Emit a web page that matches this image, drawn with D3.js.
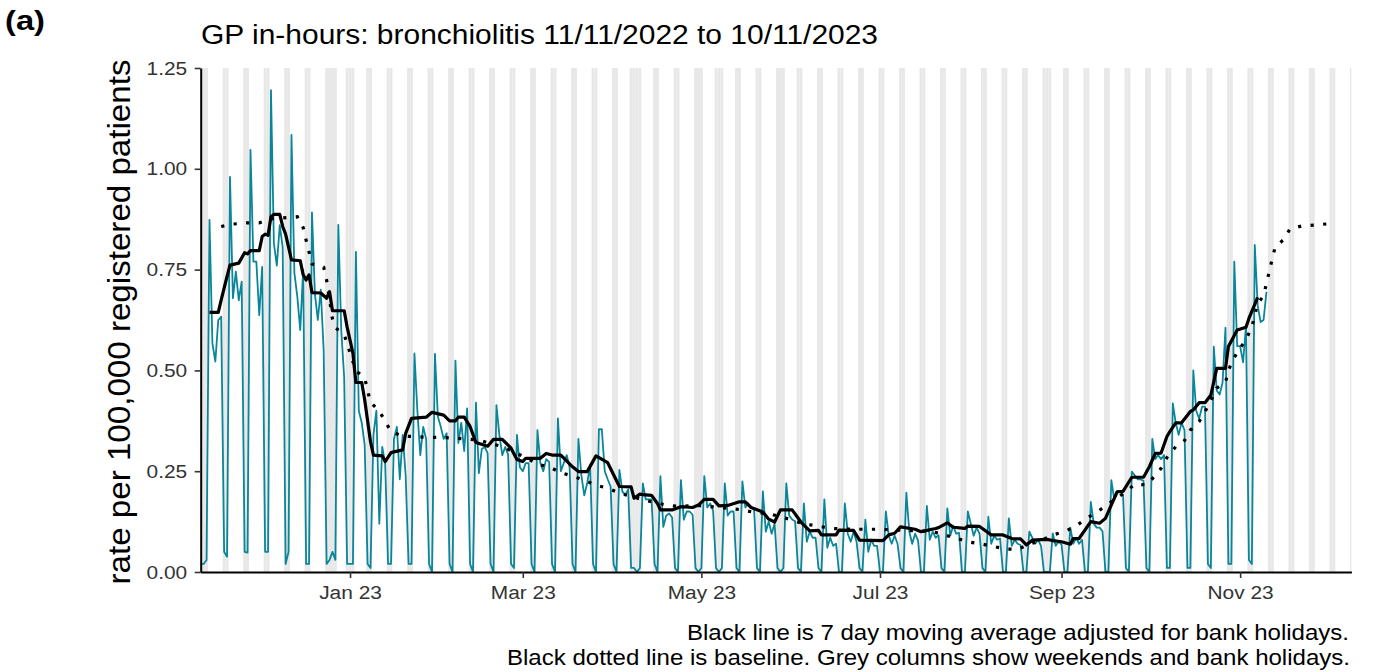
<!DOCTYPE html>
<html><head><meta charset="utf-8">
<script src="https://cdn.jsdelivr.net/npm/d3@7"></script>
<style>
body{margin:0;background:#fff}
svg{display:block}
text{font-family:"Liberation Sans", Arial, Helvetica, sans-serif}
</style>
</head><body>
<svg id="chart" width="1386" height="672"></svg>
<script>
// ---------------- data ----------------
const chartTitle = "GP in-hours: bronchiolitis 11/11/2022 to 10/11/2023";
const panelTag = "(a)";
const yTitle = "rate per 100,000 registered patients";
const captionLines = [
  "Black line is 7 day moving average adjusted for bank holidays.",
  "Black dotted line is baseline. Grey columns show weekends and bank holidays."
];
const xDomain = ["2022-11-11", "2023-12-09"];
const xTickDates = ["2023-01-01", "2023-03-01", "2023-05-01", "2023-07-01", "2023-09-01", "2023-11-01"];
const xTickLabels = ["Jan 23", "Mar 23", "May 23", "Jul 23", "Sep 23", "Nov 23"];
const yTicks = [0, 0.25, 0.5, 0.75, 1.0, 1.25];
const bankHolidays = ["2022-12-26", "2022-12-27", "2023-01-02", "2023-04-07", "2023-04-10",
                      "2023-05-01", "2023-05-08", "2023-05-29", "2023-08-28"];

// daily rate, one value per day from dailyStart
const dailyStart = "2022-11-11";
const dailyRate = [
  0.02, 0.02, 0.03,                                   // 11-13 Nov 2022
  0.873, 0.567, 0.522, 0.625, 0.633, 0.05, 0.038,     // w/c 14 Nov
  0.98, 0.679, 0.745, 0.674, 0.72, 0.05, 0.048,       // 21 Nov
  1.047, 0.77, 0.77, 0.637, 0.757, 0.05, 0.05,        // 28 Nov
  1.195, 0.815, 0.76, 0.86, 0.805, 0.02, 0.05,        // 5 Dec
  1.084, 0.741, 0.683, 0.6, 0.75, 0.02, 0.02,         // 12 Dec
  0.892, 0.69, 0.625, 0.70, 0.55, 0.02, 0.03,         // 19 Dec
  0.05, 0.03, 0.861, 0.6, 0.483, 0.02, 0.02,          // 26 Dec
  0.02, 0.794, 0.40, 0.37, 0.316, 0.02, 0.01,         // 2 Jan 2023
  0.34, 0.40, 0.12, 0.31, 0.27, 0.02, 0.02,           // 9 Jan
  0.33, 0.36, 0.23, 0.34, 0.24, 0.02, 0.02,           // 16 Jan
  0.542, 0.40, 0.29, 0.36, 0.33, 0.02, 0.0,           // 23 Jan
  0.541, 0.385, 0.36, 0.33, 0.344, 0.02, 0.0,         // 30 Jan
  0.524, 0.32, 0.37, 0.30, 0.406, 0.02, 0.0,          // 6 Feb
  0.42, 0.245, 0.305, 0.31, 0.295, 0.02, 0.0,         // 13 Feb
  0.414, 0.34, 0.29, 0.31, 0.291, 0.02, 0.01,         // 20 Feb
  0.34, 0.26, 0.25, 0.27, 0.27, 0.02, 0.0,            // 27 Feb
  0.352, 0.27, 0.25, 0.28, 0.273, 0.02, 0.0,          // 6 Mar
  0.381, 0.25, 0.27, 0.29, 0.259, 0.02, 0.0,          // 13 Mar
  0.33, 0.24, 0.19, 0.22, 0.265, 0.02, 0.0,           // 20 Mar
  0.354, 0.354, 0.25, 0.23, 0.212, 0.02, 0.0,         // 27 Mar
  0.253, 0.2, 0.19, 0.205, 0.01, 0.01, 0.0,           // 3 Apr
  0.01, 0.22, 0.18, 0.18, 0.18, 0.02, 0.0,            // 10 Apr
  0.238, 0.112, 0.14, 0.145, 0.135, 0.01, 0.0,        // 17 Apr
  0.228, 0.13, 0.15, 0.15, 0.142, 0.01, 0.0,          // 24 Apr
  0.01, 0.238, 0.16, 0.17, 0.152, 0.01, 0.0,          // 1 May
  0.01, 0.22, 0.14, 0.15, 0.15, 0.01, 0.0,            // 8 May
  0.225, 0.16, 0.17, 0.16, 0.155, 0.01, 0.0,          // 15 May
  0.2, 0.1, 0.125, 0.095, 0.12, 0.01, 0.0,            // 22 May
  0.01, 0.22, 0.14, 0.13, 0.126, 0.01, 0.0,           // 29 May
  0.17, 0.075, 0.1, 0.085, 0.085, 0.01, 0.0,          // 5 Jun
  0.18, 0.06, 0.085, 0.065, 0.07, 0.0, 0.0,           // 12 Jun
  0.17, 0.095, 0.075, 0.1, 0.075, 0.01, 0.0,          // 19 Jun
  0.13, 0.05, 0.08, 0.065, 0.065, 0.0, 0.0,           // 26 Jun
  0.15, 0.09, 0.07, 0.09, 0.07, 0.01, 0.0,            // 3 Jul
  0.197, 0.1, 0.07, 0.095, 0.078, 0.0, 0.0,           // 10 Jul
  0.164, 0.08, 0.1, 0.085, 0.091, 0.01, 0.0,          // 17 Jul
  0.158, 0.09, 0.115, 0.095, 0.097, 0.0, 0.0,         // 24 Jul
  0.15, 0.12, 0.09, 0.11, 0.095, 0.01, 0.0,           // 31 Jul
  0.137, 0.07, 0.09, 0.08, 0.083, 0.0, 0.0,           // 7 Aug
  0.133, 0.065, 0.08, 0.07, 0.067, 0.0, 0.0,          // 14 Aug
  0.1, 0.085, 0.07, 0.08, 0.065, 0.0, 0.0,            // 21 Aug
  0.0, 0.096, 0.065, 0.075, 0.068, 0.0, 0.0,          // 28 Aug
  0.11, 0.07, 0.085, 0.07, 0.08, 0.0, 0.0,            // 4 Sep
  0.174, 0.12, 0.11, 0.11, 0.101, 0.0, 0.0,           // 11 Sep
  0.228, 0.18, 0.2, 0.2, 0.192, 0.01, 0.0,            // 18 Sep
  0.249, 0.24, 0.23, 0.23, 0.226, 0.01, 0.0,          // 25 Sep
  0.33, 0.28, 0.29, 0.28, 0.29, 0.01, 0.01,           // 2 Oct
  0.418, 0.37, 0.34, 0.37, 0.352, 0.01, 0.01,         // 9 Oct
  0.5, 0.4, 0.38, 0.41, 0.41, 0.02, 0.01,             // 16 Oct
  0.559, 0.45, 0.44, 0.47, 0.606, 0.02, 0.02,         // 23 Oct
  0.77, 0.56, 0.56, 0.52, 0.61, 0.03, 0.02,           // 30 Oct
  0.811, 0.66, 0.62, 0.625, 0.695                     // 6-10 Nov
];

// 7 day moving average (vertices of the black line)
const movingAverage = [
  ["2022-11-14",0.644],["2022-11-17",0.644],["2022-11-18",0.675],["2022-11-20",0.733],
  ["2022-11-21",0.761],["2022-11-24",0.766],["2022-11-26",0.792],["2022-11-27",0.789],
  ["2022-11-28",0.797],["2022-12-01",0.797],["2022-12-02",0.832],["2022-12-03",0.838],
  ["2022-12-04",0.835],["2022-12-05",0.881],["2022-12-06",0.887],["2022-12-08",0.887],
  ["2022-12-09",0.857],["2022-12-10",0.838],["2022-12-12",0.774],["2022-12-15",0.772],
  ["2022-12-16",0.737],["2022-12-17",0.724],["2022-12-18",0.737],["2022-12-19",0.693],
  ["2022-12-22",0.692],["2022-12-24",0.679],["2022-12-25",0.695],["2022-12-26",0.648],
  ["2022-12-30",0.648],["2022-12-31",0.608],["2023-01-02",0.542],["2023-01-03",0.47],
  ["2023-01-05",0.47],["2023-01-06",0.427],["2023-01-08",0.323],["2023-01-09",0.29],
  ["2023-01-12",0.288],["2023-01-13",0.274],["2023-01-15",0.296],["2023-01-16",0.298],
  ["2023-01-19",0.303],["2023-01-20",0.344],["2023-01-22",0.381],["2023-01-27",0.384],
  ["2023-01-29",0.396],["2023-02-02",0.389],["2023-02-04",0.375],["2023-02-06",0.375],
  ["2023-02-07",0.384],["2023-02-09",0.384],["2023-02-11",0.361],["2023-02-13",0.321],
  ["2023-02-17",0.312],["2023-02-19",0.329],["2023-02-22",0.329],["2023-02-25",0.307],
  ["2023-02-27",0.279],["2023-03-01",0.274],["2023-03-02",0.282],["2023-03-07",0.282],
  ["2023-03-09",0.294],["2023-03-11",0.29],["2023-03-14",0.29],["2023-03-18",0.261],
  ["2023-03-20",0.249],["2023-03-23",0.249],["2023-03-26",0.288],["2023-03-30",0.271],
  ["2023-04-03",0.212],["2023-04-07",0.211],["2023-04-08",0.183],["2023-04-10",0.193],
  ["2023-04-11",0.192],["2023-04-14",0.19],["2023-04-16",0.17],["2023-04-17",0.154],
  ["2023-04-21",0.154],["2023-04-24",0.162],["2023-04-28",0.16],["2023-04-30",0.166],
  ["2023-05-02",0.18],["2023-05-05",0.18],["2023-05-07",0.164],["2023-05-10",0.165],
  ["2023-05-14",0.174],["2023-05-16",0.174],["2023-05-18",0.16],["2023-05-22",0.149],
  ["2023-05-24",0.131],["2023-05-26",0.124],["2023-05-28",0.154],["2023-06-01",0.154],
  ["2023-06-04",0.124],["2023-06-07",0.102],["2023-06-10",0.103],["2023-06-11",0.092],
  ["2023-06-16",0.092],["2023-06-17",0.104],["2023-06-22",0.103],["2023-06-24",0.079],
  ["2023-07-02",0.078],["2023-07-04",0.092],["2023-07-06",0.096],["2023-07-08",0.112],
  ["2023-07-13",0.106],["2023-07-15",0.1],["2023-07-20",0.108],["2023-07-21",0.11],
  ["2023-07-24",0.122],["2023-07-26",0.111],["2023-07-30",0.108],["2023-07-31",0.114],
  ["2023-08-04",0.113],["2023-08-08",0.092],["2023-08-12",0.092],["2023-08-15",0.083],
  ["2023-08-18",0.082],["2023-08-20",0.067],["2023-08-22",0.079],["2023-08-27",0.081],
  ["2023-08-29",0.078],["2023-09-01",0.075],["2023-09-04",0.069],["2023-09-05",0.083],
  ["2023-09-07",0.083],["2023-09-11",0.125],["2023-09-14",0.121],["2023-09-16",0.133],
  ["2023-09-20",0.199],["2023-09-22",0.2],["2023-09-25",0.235],["2023-09-29",0.235],
  ["2023-10-01",0.261],["2023-10-03",0.294],["2023-10-05",0.295],["2023-10-07",0.336],
  ["2023-10-08",0.348],["2023-10-10",0.37],["2023-10-12",0.37],["2023-10-15",0.398],
  ["2023-10-16",0.402],["2023-10-18",0.42],["2023-10-20",0.42],["2023-10-22",0.439],
  ["2023-10-24",0.505],["2023-10-27",0.505],["2023-10-28",0.559],["2023-10-31",0.6],
  ["2023-11-03",0.607],["2023-11-04",0.629],["2023-11-07",0.681]
];

// baseline (black dotted line)
const baseline = [
  ["2022-11-18",0.857],["2022-11-22",0.863],["2022-11-27",0.866],["2022-12-01",0.866],
  ["2022-12-05",0.876],["2022-12-09",0.878],["2022-12-14",0.881],["2022-12-16",0.854],
  ["2022-12-17",0.823],["2022-12-18",0.794],["2022-12-19",0.764],["2022-12-23",0.756],
  ["2022-12-24",0.724],["2022-12-26",0.628],["2022-12-27",0.606],["2022-12-30",0.589],
  ["2023-01-03",0.499],["2023-01-06",0.482],["2023-01-07",0.45],["2023-01-08",0.421],
  ["2023-01-11",0.399],["2023-01-13",0.374],["2023-01-15",0.348],["2023-01-19",0.337],
  ["2023-01-23",0.336],["2023-01-28",0.334],["2023-02-01",0.334],["2023-02-05",0.332],
  ["2023-02-10",0.33],["2023-02-14",0.327],["2023-02-22",0.311],["2023-03-02",0.284],
  ["2023-03-06",0.267],["2023-03-10",0.261],["2023-03-14",0.246],["2023-03-18",0.238],
  ["2023-03-22",0.228],["2023-03-26",0.215],["2023-03-30",0.208],["2023-04-03",0.196],
  ["2023-04-11",0.179],["2023-04-19",0.166],["2023-04-24",0.162],["2023-04-28",0.165],
  ["2023-05-02",0.164],["2023-05-15",0.154],["2023-05-19",0.148],["2023-05-24",0.145],
  ["2023-05-28",0.137],["2023-06-01",0.129],["2023-06-05",0.119],["2023-06-10",0.114],
  ["2023-06-14",0.108],["2023-06-22",0.106],["2023-07-01",0.106],["2023-07-06",0.104],
  ["2023-07-14",0.102],["2023-07-19",0.1],["2023-07-23",0.092],["2023-07-27",0.084],
  ["2023-07-31",0.075],["2023-08-05",0.069],["2023-08-09",0.063],["2023-08-13",0.057],
  ["2023-08-17",0.056],["2023-08-21",0.069],["2023-08-25",0.078],["2023-08-29",0.092],
  ["2023-09-02",0.1],["2023-09-06",0.114],["2023-09-09",0.131],["2023-09-13",0.148],
  ["2023-09-16",0.164],["2023-09-20",0.184],["2023-09-23",0.199],["2023-09-26",0.218],
  ["2023-09-30",0.216],["2023-10-03",0.239],["2023-10-05",0.257],["2023-10-07",0.284],
  ["2023-10-10",0.311],["2023-10-13",0.326],["2023-10-15",0.352],["2023-10-18",0.373],
  ["2023-10-20",0.398],["2023-10-22",0.425],["2023-10-24",0.456],["2023-10-27",0.47],
  ["2023-10-28",0.501],["2023-10-30",0.532],["2023-11-01",0.555],["2023-11-03",0.577],
  ["2023-11-05",0.607],["2023-11-06",0.637],["2023-11-07",0.666],["2023-11-09",0.685],
  ["2023-11-10",0.716],["2023-11-11",0.747],["2023-11-12",0.778],["2023-11-13",0.807],
  ["2023-11-16",0.825],["2023-11-18",0.851],["2023-11-22",0.858],["2023-11-27",0.861],
  ["2023-12-02",0.864]
];

// ---------------- drawing ----------------
const parse = d3.utcParse("%Y-%m-%d");
const svg = d3.select("#chart");
const M = {left: 200.7, right: 1351.4, top: 68, bottom: 572};
const TX = 1.1; // horizontal text stretch seen in the reference

const x = d3.scaleUtc().domain(xDomain.map(parse)).range([M.left, M.right]);
const y = d3.scaleLinear().domain([0, 1.25]).range([M.bottom, M.top]);

// grey weekend / bank holiday columns
const bh = new Set(bankHolidays);
const fmt = d3.utcFormat("%Y-%m-%d");
const allDays = d3.utcDay.range(parse(xDomain[0]), d3.utcDay.offset(parse(xDomain[1]), 1));
const greyDays = allDays.filter(d => d.getUTCDay() === 0 || d.getUTCDay() === 6 || bh.has(fmt(d)));
svg.append("defs").append("clipPath").attr("id", "plotclip")
  .append("rect").attr("x", M.left).attr("y", M.top).attr("width", M.right - M.left).attr("height", M.bottom - M.top);
const gCols = svg.append("g").attr("clip-path", "url(#plotclip)");
gCols.selectAll("rect").data(greyDays).join("rect")
  .attr("x", d => x(d3.utcHour.offset(d, -12)))
  .attr("width", d => x(d3.utcHour.offset(d, 12)) - x(d3.utcHour.offset(d, -12)))
  .attr("y", M.top).attr("height", M.bottom - M.top)
  .attr("fill", "#e8e8e8");

// daily series
const start = parse(dailyStart);
const daily = dailyRate.map((v, i) => ({date: d3.utcDay.offset(start, i), v}));
const line = d3.line().x(d => x(d.date)).y(d => y(d.v));
svg.append("path").datum(daily).attr("d", line)
  .attr("fill", "none").attr("stroke", "#0a8599").attr("stroke-width", 1.8)
  .attr("stroke-linejoin", "round");

// baseline dotted
const base = baseline.map(([d, v]) => ({date: parse(d), v}));
svg.append("path").datum(base).attr("d", line)
  .attr("fill", "none").attr("stroke", "#000").attr("stroke-width", 3.2)
  .attr("stroke-dasharray", "3.2 9.4");

// moving average
const ma = movingAverage.map(([d, v]) => ({date: parse(d), v}));
svg.append("path").datum(ma).attr("d", line)
  .attr("fill", "none").attr("stroke", "#000").attr("stroke-width", 3.2)
  .attr("stroke-linejoin", "round");

// axes
const yAxis = d3.axisLeft(y).tickValues(yTicks).tickFormat(d3.format(".2f"))
  .tickSize(6).tickSizeOuter(0).tickPadding(6);
const gy = svg.append("g").attr("transform", `translate(${M.left},0)`).call(yAxis);
gy.attr("font-family", null);
gy.select(".domain").attr("stroke", "#000").attr("stroke-width", 2);
gy.selectAll(".tick line").attr("stroke", "#333").attr("stroke-width", 1.6);
gy.selectAll(".tick text").attr("font-size", 19).attr("fill", "#333")
  .attr("x", -13.5 / TX).attr("transform", `scale(${TX},1)`);

const xAxis = d3.axisBottom(x).tickValues(xTickDates.map(parse))
  .tickFormat((d, i) => xTickLabels[i]).tickSize(6).tickSizeOuter(0).tickPadding(8);
const gx = svg.append("g").attr("transform", `translate(0,${M.bottom})`).call(xAxis);
gx.attr("font-family", null);
gx.select(".domain").attr("stroke", "#000").attr("stroke-width", 2);
gx.selectAll(".tick line").attr("stroke", "#333").attr("stroke-width", 1.6);
gx.selectAll(".tick text").attr("font-size", 19).attr("fill", "#333")
  .attr("transform", `scale(${TX},1)`);

// texts
function addText(str, xx, yy, size, anchor, len, opts = {}) {
  const t = svg.append("text").attr("x", xx).attr("y", yy)
    .attr("font-size", size).attr("text-anchor", anchor)
    .attr("fill", opts.fill || "#000").text(str);
  if (opts.weight) t.attr("font-weight", opts.weight);
  if (len) t.attr("textLength", len).attr("lengthAdjust", "spacingAndGlyphs");
  if (opts.rotate) t.attr("transform", `rotate(${opts.rotate},${xx},${yy})`);
  return t;
}
addText(panelTag, 5, 30, 28, "start", 40, {weight: "bold"});
addText(chartTitle, 201, 44, 27, "start", 677);
addText(yTitle, 130, 322, 31, "middle", 525, {rotate: -90});
addText(captionLines[0], 1349, 640, 21.5, "end", 662);
addText(captionLines[1], 1350, 665, 21.5, "end", 843);
</script>
</body></html>
